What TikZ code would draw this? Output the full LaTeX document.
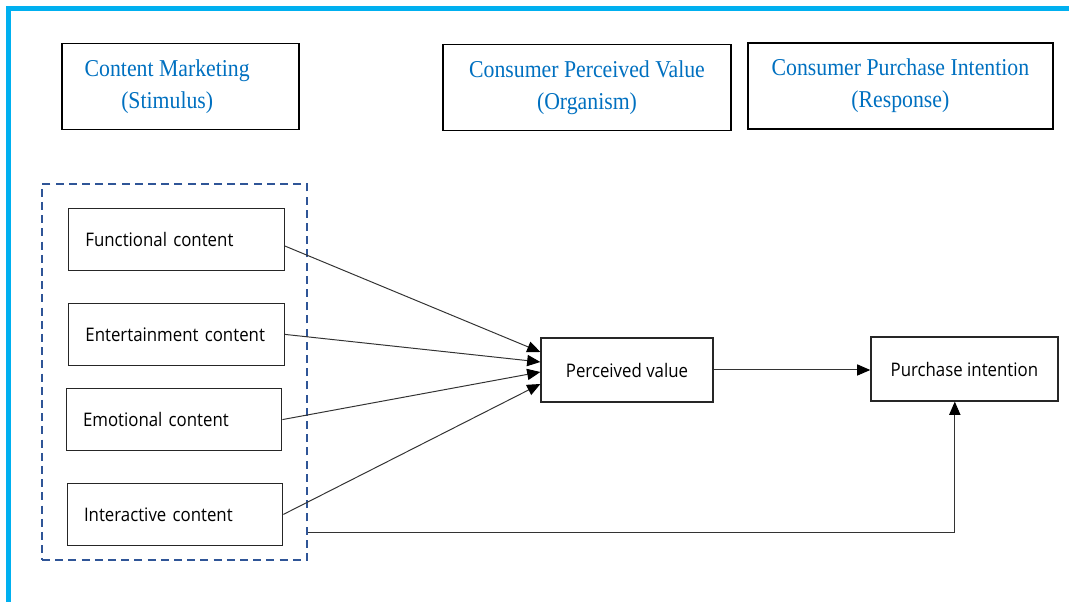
\documentclass[tikz,border=0pt]{standalone}
\usepackage{fontspec}
\usetikzlibrary{arrows.meta}
\setmainfont{Liberation Serif}
\newfontfamily\headfont[FakeStretch=0.9]{Liberation Serif}
\newfontfamily\bodyfont[FakeStretch=0.9]{Open Sans}
\definecolor{frameblue}{HTML}{00B0F0}
\definecolor{titleblue}{HTML}{0070C0}
\definecolor{groupblue}{HTML}{2F5597}
\tikzset{
  head/.style={draw=black,line width=1pt,minimum height=2.15cm},
  title/.style={align=center,text=titleblue,
    font=\headfont\fontsize{17.2}{22.5}\selectfont},
  var/.style={draw=black!85,line width=0.9pt,minimum height=1.55cm,
    text width=4.55cm,inner xsep=0.42cm,align=left,
    font=\bodyfont\fontsize{13.3}{15}\selectfont},
  res/.style={draw=black!85,line width=0.9pt,minimum height=1.6cm,
    font=\bodyfont\fontsize{13.3}{15}\selectfont},
  link/.style={draw=black!80,line width=0.7pt,
    -{Triangle[length=0.33cm,width=0.28cm,color=black]}}
}

\begin{document}
\begin{tikzpicture}
\useasboundingbox (0,0) rectangle (26.725,15.05);
\draw[frameblue,line width=3.6pt] (0.21,0) |- (26.725,14.84);

\node[head,minimum width=5.925cm] (stim) at (4.51,12.89) {};
\node[title] (stimtext) at ([xshift=-0.33cm]stim.center) {Content Marketing\\(Stimulus)};
\node[head,minimum width=7.2cm,title] (org) at (14.675,12.86) {Consumer Perceived Value\\(Organism)};
\node[head,minimum width=7.625cm,title] (resp) at (22.51,12.9) {Consumer Purchase Intention\\(Response)};

\node[draw=groupblue,line width=1.4pt,dash pattern=on 0.2cm off 0.13cm,
  minimum width=6.625cm,minimum height=9.4cm] (grp) at (4.3625,5.75) {};
\node[var] (fun) at (4.41,9.06) {Functional content};
\node[var] (ent) at (4.41,6.69) {Entertainment content};
\node[var] (emo) at (4.35,4.56) {Emotional content};
\node[var] (int) at (4.375,2.19) {Interactive content};

\node[res,minimum width=4.3cm] (pv) at (15.675,5.8) {Perceived value};
\node[res,minimum width=4.675cm] (pi) at (24.11,5.825) {Purchase intention};

\draw[link] ([yshift=-0.16cm]fun.east) -- ([yshift=0.45cm]pv.west);
\draw[link] (ent.east) -- ([yshift=0.2cm]pv.west);
\draw[link] (emo.east) -- ([yshift=-0.05cm]pv.west);
\draw[link] (int.east) -- ([yshift=-0.35cm]pv.west);
\draw[link] (pv.east) -- (pv.east -| pi.west);
\draw[link] ([yshift=0.7cm]grp.south east) -| ([xshift=-0.24cm]pi.south);
\end{tikzpicture}
\end{document}
